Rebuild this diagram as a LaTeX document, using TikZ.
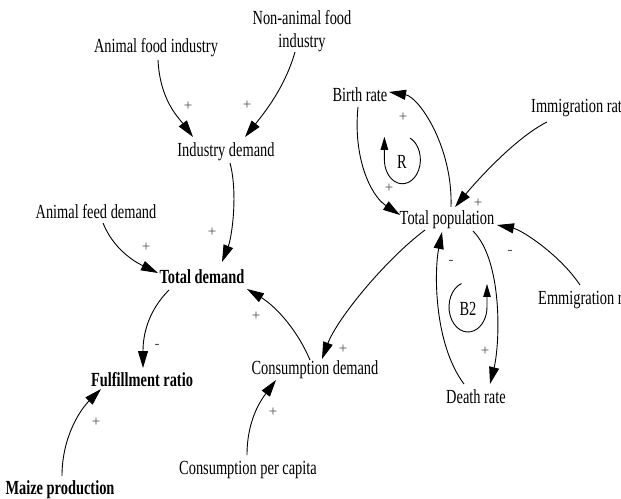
\documentclass[tikz,border=0pt]{standalone}
\usepackage{fontspec}
\setmainfont{Liberation Serif}[FakeStretch=0.72]
\newfontfamily\sgnfont{Liberation Serif}
\usetikzlibrary{arrows.meta}
\begin{document}
\begin{tikzpicture}[x=1pt,y=-1pt,
  lbl/.style={font=\fontsize{20}{22}\selectfont, inner sep=1pt},
  blbl/.style={inner sep=1pt, font=\fontsize{20}{22}\selectfont\bfseries},
  sgn/.style={font=\sgnfont\fontsize{15}{15}\selectfont, text=black!70, inner sep=0pt},
  lnk/.style={line width=0.9pt, -{Triangle[length=17pt,width=10pt]}},
  loopl/.style={line width=0.9pt, -{Triangle[length=13pt,width=7.5pt]}}]
\useasboundingbox (0,0) rectangle (621,498);
\clip (0,0) rectangle (621,498);
% variables
\node[lbl] (afi) at (156,48) {Animal food industry};
\node[lbl, align=center, font=\fontsize{20}{23}\selectfont] (nafi) at (302,31) {Non-animal food\\industry};
\node[lbl] (ind) at (226,152) {Industry demand};
\node[lbl] (afd) at (96,212) {Animal feed demand};
\node[blbl] (td) at (202,277) {Total demand};
\node[blbl] (fr) at (142,380) {Fulfillment ratio};
\node[blbl] (mp) at (60,490) {Maize production};
\node[lbl] (cpc) at (248,470) {Consumption per capita};
\node[lbl] (cd) at (315,370) {Consumption demand};
\node[lbl] (br) at (360,95) {Birth rate};
\node[lbl, anchor=west] (imm) at (530,108) {Immigration rate};
\node[lbl] (tp) at (447,220) {Total population};
\node[lbl, anchor=west] (emm) at (537,300) {Emmigration rate};
\node[lbl] (dr) at (476,397) {Death rate};
% links
\draw[lnk] ([shift={(2,12)}]afi.center) .. controls +(2,40) and +(-15,-20) .. ([shift={(-33,-15)}]ind.center);
\draw[lnk] ([shift={(-7,21)}]nafi.center) .. controls +(-10,35) and +(20,-25) .. ([shift={(19,-15)}]ind.center);
\draw[lnk] ([shift={(4,11)}]ind.center) .. controls +(8,30) and +(10,-25) .. ([shift={(20,-15)}]td.center);
\draw[lnk] ([shift={(7,11)}]afd.center) .. controls +(10,25) and +(-25,-12) .. ([shift={(-44,-4)}]td.center);
\draw[lnk] ([shift={(-33,13)}]td.center) .. controls +(-20,20) and +(0,-35) .. ([shift={(1,-12)}]fr.center);
\draw[lnk] ([shift={(2,-14)}]mp.center) .. controls +(0,-40) and +(-20,20) .. ([shift={(-41,9)}]fr.center);
\draw[lnk] ([shift={(-1,-15)}]cpc.center) .. controls +(0,-35) and +(-15,20) .. ([shift={(-39,10)}]cd.center);
\draw[lnk] ([shift={(-5,-10)}]cd.center) .. controls +(-15,-35) and +(25,15) .. ([shift={(45,12)}]td.center);
\draw[lnk] ([shift={(-22,10)}]tp.center) .. controls +(-40,30) and +(15,-40) .. ([shift={(7,-11)}]cd.center);
\draw[lnk] ([shift={(4,-13)}]tp.center) .. controls +(2,-60) and +(30,5) .. ([shift={(29,-3)}]br.center);
\draw[lnk] ([shift={(-2,12)}]br.center) .. controls +(-5,50) and +(-30,-20) .. ([shift={(-47,-5)}]tp.center);
\draw[lnk] ([shift={(17,14)}]imm.west) .. controls +(-30,15) and +(25,-30) .. ([shift={(8,-13)}]tp.center);
\draw[lnk] ([shift={(43,-15)}]emm.west) .. controls +(-20,-30) and +(25,5) .. ([shift={(50,5)}]tp.center);
\draw[lnk] ([shift={(26,11)}]tp.center) .. controls +(30,30) and +(10,-40) .. ([shift={(14,-13)}]dr.center);
\draw[lnk] ([shift={(-12,-13)}]dr.center) .. controls +(-30,-40) and +(-8,40) .. ([shift={(-5,12)}]tp.center);
% loops
\node[lbl] (rl) at (402,162) {R};
\draw[loopl] ([shift={(8,-24)}]rl.center) arc[start angle=-65, end angle=180, x radius=18, y radius=24] -- ++(0,-23);
\node[lbl] (b2) at (468,309) {B2};
\draw[loopl] ([shift={(-6.5,-25.5)}]b2.center) arc[start angle=-110, end angle=-360, x radius=19, y radius=25] -- ++(0,-23);
% polarities
\node[sgn] (s1) at (188,106) {+};
\node[sgn] (s2) at (247,105) {+};
\node[sgn] (s3) at (212,232) {+};
\node[sgn] (s4) at (146,247) {+};
\node[sgn] (s5) at (157,346) {-};
\node[sgn] (s6) at (96,422) {+};
\node[sgn] (s7) at (256,316) {+};
\node[sgn] (s8) at (273,412) {+};
\node[sgn] (s9) at (343,349) {+};
\node[sgn] (s10) at (403,117) {+};
\node[sgn] (s11) at (389,188) {+};
\node[sgn] (s12) at (478,203) {+};
\node[sgn] (s13) at (451,262) {-};
\node[sgn] (s14) at (510,252) {-};
\node[sgn] (s15) at (485,351) {+};
\end{tikzpicture}
\end{document}
